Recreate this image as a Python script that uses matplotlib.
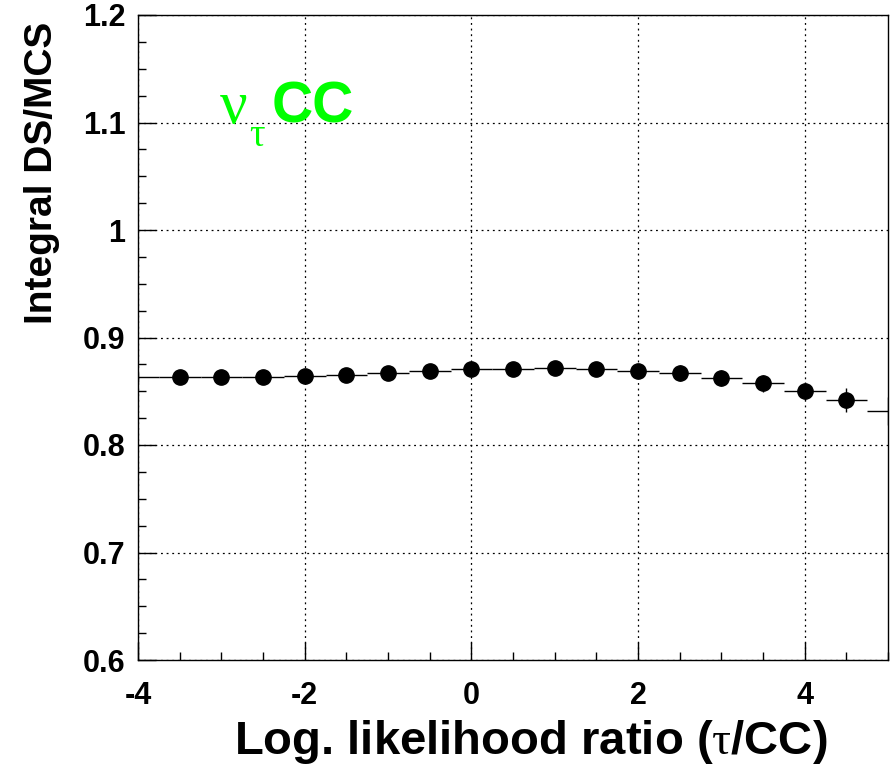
import matplotlib
matplotlib.use("Agg")
import matplotlib.pyplot as plt
import numpy as np
from matplotlib.ticker import MultipleLocator

plt.rcParams['mathtext.fontset'] = 'custom'
plt.rcParams['mathtext.rm'] = 'Liberation Serif'
plt.rcParams['mathtext.it'] = 'Liberation Serif'
plt.rcParams['font.family'] = ['Liberation Sans', 'DejaVu Sans']

# data
bin_centers = [-4.0, -3.5, -3.0, -2.5, -2.0, -1.5, -1.0, -0.5, 0.0, 0.5,
               1.0, 1.5, 2.0, 2.5, 3.0, 3.5, 4.0, 4.5, 5.0]
ratio = [0.863, 0.863, 0.863, 0.8635, 0.864, 0.8655, 0.867, 0.869, 0.8705, 0.871,
         0.872, 0.871, 0.869, 0.867, 0.8625, 0.8575, 0.850, 0.842, 0.832]
ratio_err = [0.004, 0.004, 0.004, 0.004, 0.004, 0.004, 0.004, 0.004, 0.004, 0.005,
             0.005, 0.005, 0.006, 0.0075, 0.0075, 0.008, 0.0085, 0.011, 0.013]
bin_halfwidth = 0.25
x_ticks = [-4, -2, 0, 2, 4]
y_ticks = [0.6, 0.7, 0.8, 0.9, 1.0, 1.1, 1.2]
y_ticklabels = ['0.6', '0.7', '0.8', '0.9', '1', '1.1', '1.2']

fig = plt.figure(figsize=(8.95, 7.72), dpi=100)
ax = fig.add_axes([138/895, 1-660/772, 750/895, 645/772])

x = np.array(bin_centers)
y = np.array(ratio)
ax.errorbar(x, y, xerr=bin_halfwidth, yerr=ratio_err, fmt='none',
            ecolor='black', elinewidth=1.0, capsize=0, zorder=3)
inner = (x > -4) & (x < 5)
ax.plot(x[inner], y[inner], 'o', color='black', markersize=11, zorder=4)

ax.set_xlim(-4, 5)
ax.set_ylim(0.6, 1.2)
ax.set_xticks(x_ticks)
ax.set_xticklabels([str(t) for t in x_ticks])
ax.set_yticks(y_ticks)
ax.set_yticklabels(y_ticklabels)
ax.xaxis.set_minor_locator(MultipleLocator(0.5))
ax.yaxis.set_minor_locator(MultipleLocator(0.025))
ax.tick_params(which='both', direction='in', top=False, right=False)
ax.tick_params(which='major', length=13, width=1.0, labelsize=22)
ax.tick_params(which='minor', length=6, width=1.0)
ax.tick_params(axis='y', which='major', pad=9)
ax.tick_params(axis='x', which='major', pad=15)
for lab in ax.get_xticklabels() + ax.get_yticklabels():
    lab.set_fontweight('bold')

ax.grid(True, which='major', linestyle=(0, (1.5, 3)), color='black', linewidth=0.9)
for s in ax.spines.values():
    s.set_linewidth(1.0)

ax.set_xlabel(r"Log. likelihood ratio ($\mathrm{\tau}$/CC)", fontsize=34,
              fontweight='bold')
ax.xaxis.set_label_coords(0.524, -0.09)
ax.set_ylabel("Integral DS/MCS", fontsize=28, fontweight='bold')
ax.yaxis.set_label_coords(-0.104, 0.755)

green = '#00ff00'
ax.text(0.108, 0.833, r"$\mathrm{\nu}$", transform=ax.transAxes, color=green,
        fontsize=44, ha='left', va='baseline')
ax.text(0.148, 0.797, r"$\mathrm{\tau}$", transform=ax.transAxes, color=green,
        fontsize=28, ha='left', va='baseline')
ax.text(0.178, 0.833, "CC", transform=ax.transAxes, color=green,
        fontsize=41, fontweight='bold', ha='left', va='baseline')

fig.savefig("out.png", dpi=100)
